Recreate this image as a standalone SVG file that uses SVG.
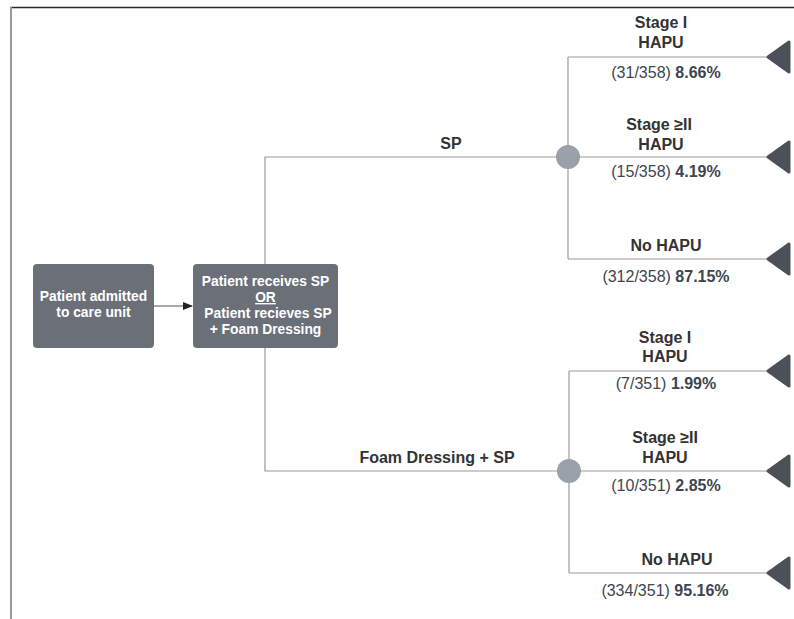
<svg xmlns="http://www.w3.org/2000/svg" width="794" height="619" viewBox="0 0 794 619">
<defs>
<style>
.box{fill:#6b7078;}
.bt{font-family:"Liberation Sans",Arial,sans-serif;font-size:13.8px;font-weight:bold;fill:#ffffff;text-anchor:middle;}
.ln{stroke:#9a9a9a;stroke-width:1.2;fill:none;}
.chance{fill:#9aa0aa;}
.term{fill:#4b5059;stroke:#4b5059;stroke-width:3;stroke-linejoin:round;}
.lbl{font-family:"Liberation Sans",Arial,sans-serif;font-size:16px;font-weight:bold;fill:#333333;text-anchor:middle;}
.pct{font-family:"Liberation Sans",Arial,sans-serif;font-size:16px;fill:#3d4550;text-anchor:middle;}
.pct tspan{font-weight:bold;}
</style>
<marker id="arr" markerWidth="10" markerHeight="8" refX="9" refY="4" orient="auto" markerUnits="userSpaceOnUse">
<path d="M0,0 L10,4 L0,8 Z" fill="#222"/>
</marker>
</defs>
<rect width="794" height="619" fill="#ffffff"/>
<line x1="10" y1="7.5" x2="794" y2="7.5" stroke="#2a2a2a" stroke-width="1.5"/>
<line x1="11" y1="7" x2="11" y2="619" stroke="#999999" stroke-width="2"/>

<g id="connectors">
<line x1="154" y1="306" x2="192" y2="306" stroke="#555" stroke-width="1" marker-end="url(#arr)"/>
<polyline class="ln" points="265,264 265,157 568,157"/>
<polyline class="ln" points="265,348 265,471 569,471"/>
<line class="ln" x1="568" y1="57" x2="568" y2="259"/>
<line class="ln" x1="568" y1="57" x2="768" y2="57"/>
<line class="ln" x1="568" y1="157" x2="768" y2="157"/>
<line class="ln" x1="568" y1="259" x2="768" y2="259"/>
<line class="ln" x1="569" y1="371" x2="569" y2="573"/>
<line class="ln" x1="569" y1="371" x2="768" y2="371"/>
<line class="ln" x1="569" y1="471" x2="768" y2="471"/>
<line class="ln" x1="569" y1="573" x2="768" y2="573"/>
<text class="lbl" x="451" y="149">SP</text>
<text class="lbl" x="437" y="463">Foam Dressing + SP</text>
</g>

<g id="node-admit">
<rect class="box" x="33" y="264" width="121" height="84" rx="4"/>
<text class="bt" x="93.5" y="301">Patient admitted</text>
<text class="bt" x="93.5" y="317">to care unit</text>
</g>

<g id="node-decision">
<rect class="box" x="193" y="264" width="145" height="84" rx="4"/>
<text class="bt" x="265.5" y="286">Patient receives SP</text>
<text class="bt" x="265.5" y="302" text-decoration="underline">OR</text>
<text class="bt" x="268" y="318">Patient recieves SP</text>
<text class="bt" x="265.5" y="334">+ Foam Dressing</text>
</g>

<g id="chance-sp"><circle class="chance" cx="568" cy="157" r="12"/></g>
<g id="chance-foam"><circle class="chance" cx="569" cy="471" r="12"/></g>

<g id="sp-stage1">
<polygon class="term" points="768,57 789,42 789,72"/>
<text class="lbl" x="661" y="28">Stage I</text>
<text class="lbl" x="661" y="48">HAPU</text>
<text class="pct" x="666" y="78">(31/358) <tspan>8.66%</tspan></text>
</g>
<g id="sp-stage2">
<polygon class="term" points="768,157 789,142 789,172"/>
<text class="lbl" x="659" y="130">Stage ≥II</text>
<text class="lbl" x="661" y="150">HAPU</text>
<text class="pct" x="666" y="177">(15/358) <tspan>4.19%</tspan></text>
</g>
<g id="sp-none">
<polygon class="term" points="768,259 789,244 789,274"/>
<text class="lbl" x="666" y="251">No HAPU</text>
<text class="pct" x="666" y="282">(312/358) <tspan>87.15%</tspan></text>
</g>

<g id="foam-stage1">
<polygon class="term" points="768,371 789,356 789,386"/>
<text class="lbl" x="665" y="343">Stage I</text>
<text class="lbl" x="665" y="362">HAPU</text>
<text class="pct" x="666" y="389">(7/351) <tspan>1.99%</tspan></text>
</g>
<g id="foam-stage2">
<polygon class="term" points="768,471 789,456 789,486"/>
<text class="lbl" x="665" y="443">Stage ≥II</text>
<text class="lbl" x="665" y="463">HAPU</text>
<text class="pct" x="666" y="491">(10/351) <tspan>2.85%</tspan></text>
</g>
<g id="foam-none">
<polygon class="term" points="768,573 789,558 789,588"/>
<text class="lbl" x="677" y="565">No HAPU</text>
<text class="pct" x="665" y="596">(334/351) <tspan>95.16%</tspan></text>
</g>
</svg>
